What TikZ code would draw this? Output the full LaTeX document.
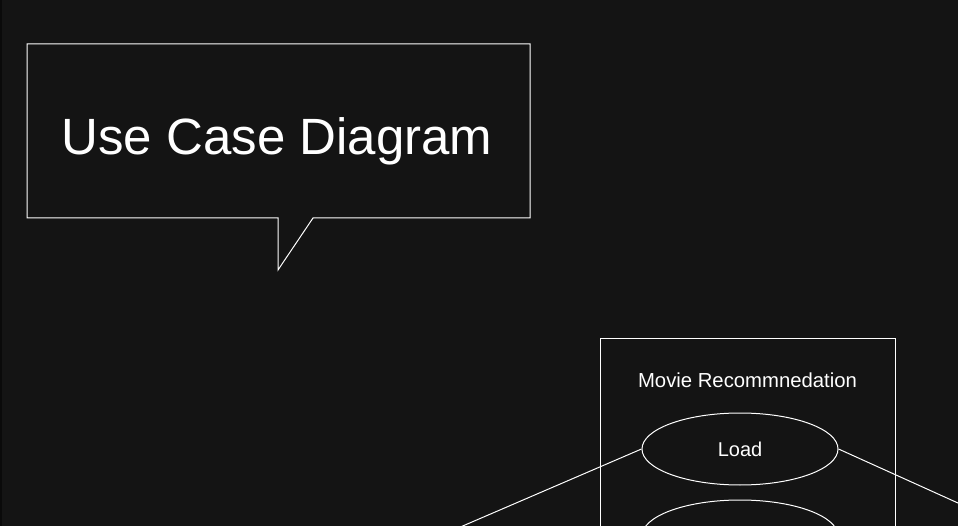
\documentclass[tikz,border=0pt]{standalone}
\usepackage{fontspec}
\setmainfont{Liberation Sans}
\usetikzlibrary{shapes.geometric}
\definecolor{bgdark}{HTML}{141414}
\definecolor{edgedark}{HTML}{0A0A0A}
\tikzset{
  usecase/.style={ellipse,draw=white,line width=1pt,minimum width=196pt,minimum height=72pt,inner sep=0pt,text=white,font=\fontsize{20}{24}\selectfont},
  wline/.style={draw=white,line width=1pt}
}

\begin{document}
\begin{tikzpicture}[x=1pt,y=-1pt]
\useasboundingbox (0,0) rectangle (958,526);
\clip (0,0) rectangle (958,526);
\fill[bgdark] (0,0) rectangle (958,526);
\fill[edgedark] (0,0) rectangle (2,526);
\draw[wline] (27,44) -- (530,44) -- (530,218) -- (313,218) -- (278,270) -- (278,218) -- (27,218) -- cycle;
\node[text=white,font=\fontsize{51}{60}\selectfont,anchor=base] (title) at (277,155) {Use Case Diagram};
\draw[wline] (600,339) rectangle (895,560);
\node[text=white,font=\fontsize{20.3}{24}\selectfont,anchor=base] (system) at (747.5,388) {Movie Recommnedation};
\node[usecase] (load) at (740,449) {Load};
\node[usecase] (second) at (740,536) {};
\coordinate (userL) at (400,553);
\coordinate (userR) at (1000,522);
\draw[wline] (load.west) -- (userL);
\draw[wline] (load.east) -- (userR);
\end{tikzpicture}
\end{document}
